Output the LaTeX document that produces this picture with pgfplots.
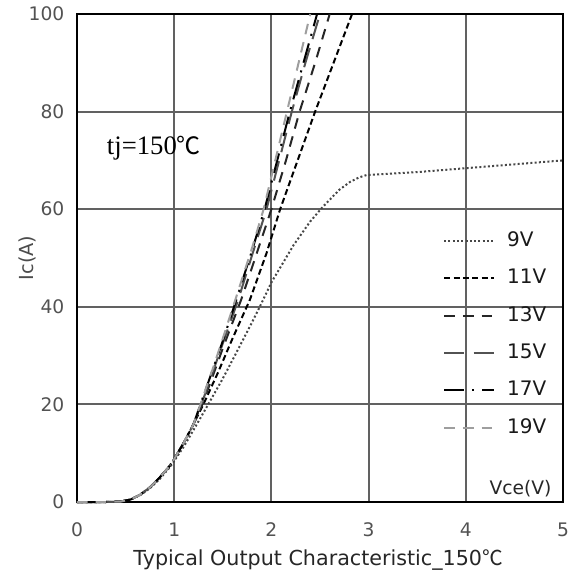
\documentclass[border=0pt]{standalone}
\usepackage{fontspec}
\setmainfont{DejaVu Sans}
\newfontfamily\serif{Liberation Serif}
\newfontfamily\cjk{Noto Sans CJK SC}
\usepackage{pgfplots}
\pgfplotsset{compat=1.18}
\usetikzlibrary{calc}

\begin{document}
\begin{tikzpicture}
\begin{axis}[
  scale only axis, width=364.5pt, height=366pt,
  xmin=0, xmax=5, ymin=0, ymax=100,
  xtick={0,1,...,5}, ytick={0,20,...,100},
  major tick length=0pt,
  grid=major, major grid style={black!62, line width=1.4pt},
  axis line style={black, line width=2.2pt},
  /pgf/number format/assume math mode=true,
  ticklabel style={font=\fontsize{14}{16}\selectfont, text=black!68},
  xticklabel style={yshift=-12pt},
  yticklabel style={xshift=-6pt},
  xlabel={Typical Output Characteristic\_150{\cjk ℃}},
  xlabel style={at={(axis description cs:0.496,-0.119)}, anchor=center,
    font=\fontsize{15.5}{18}\selectfont, text=black!85},
  ylabel={Ic(A)},
  ylabel style={at={(axis description cs:-0.101,0.5)}, anchor=center,
    font=\fontsize{14.5}{17}\selectfont, text=black!70},
  clip=false,
  legend cell align=left,
  legend image code/.code={\draw[#1] (0pt,0pt) -- (37.5pt,0pt);},
  legend style={at={(rel axis cs:0.753,0.553)}, anchor=north west,
    draw=none, fill=none, inner sep=0pt, row sep=15pt,
    font=\fontsize{15}{17}\selectfont,
    nodes={text height=10.5pt, text depth=2.5pt, inner sep=0pt, text=black!90},
    /tikz/every odd column/.append style={column sep=9pt}},
  every axis plot/.append style={line width=1.5pt},
]
% 9V
\addplot[black!72, dash pattern=on 1.5pt off 1.7pt] coordinates {
 (0,0) (0.3,0) (0.45,0.1) (0.55,0.5) (0.65,1.4) (0.75,2.8) (0.85,4.7)
 (0.95,7) (1.0,8.4) (1.1,11.4) (1.2,14.8) (1.35,20) (1.5,25.3) (1.65,31)
 (1.8,36.8) (1.9,40.8) (2.0,45) (2.23,52.7) (2.4,57.5) (2.53,60.5)
 (2.7,64) (2.81,65.6) (2.9,66.5) (2.98,67) (3.5,67.6) (4.0,68.4)
 (4.5,69.2) (5.0,70)
};
% 11V
\addplot[black, dash pattern=on 4.5pt off 2.5pt] coordinates {
 (0,0) (0.3,0) (0.45,0.1) (0.55,0.5) (0.65,1.5) (0.75,3) (0.85,5)
 (0.95,7.3) (1.0,8.8) (1.1,12.2) (1.2,16) (1.3,20) (1.45,26.5)
 (1.6,33.5) (1.78,41.5) (1.95,51) (2.09,60) (2.27,70) (2.45,80)
 (2.64,90) (2.83,100)
};
% 13V
\addplot[black!85, dash pattern=on 8pt off 6pt] coordinates {
 (0,0) (0.3,0) (0.45,0.1) (0.55,0.5) (0.65,1.5) (0.75,3) (0.85,5)
 (0.95,7.3) (1.0,8.8) (1.1,12.2) (1.2,16) (1.29,20) (1.4,26)
 (1.5,31.5) (1.69,41.5) (1.85,51) (2.0,60) (2.15,70) (2.29,80)
 (2.45,90) (2.60,100)
};
% 15V
\addplot[black!68, dash pattern=on 15pt off 7pt] coordinates {
 (0,0) (0.3,0) (0.45,0.1) (0.55,0.5) (0.65,1.5) (0.75,3) (0.85,5)
 (0.95,7.3) (1.0,8.8) (1.1,12.2) (1.2,16) (1.28,20) (1.4,26.8)
 (1.5,32.5) (1.66,41.5) (1.8,50.5) (1.95,60) (2.08,70) (2.21,80)
 (2.35,90) (2.50,100)
};
% 17V
\addplot[black, dash pattern=on 15pt off 6pt on 1.5pt off 6pt] coordinates {
 (0,0) (0.3,0) (0.45,0.1) (0.55,0.5) (0.65,1.5) (0.75,3) (0.85,5)
 (0.95,7.3) (1.0,8.8) (1.1,12.2) (1.2,16) (1.27,20) (1.4,27.3)
 (1.5,33) (1.64,41.5) (1.8,51.5) (1.93,60) (2.06,70) (2.19,80)
 (2.33,90) (2.47,100)
};
% 19V
\addplot[black!38, dash pattern=on 8pt off 6pt] coordinates {
 (0,0) (0.3,0) (0.45,0.1) (0.55,0.5) (0.65,1.5) (0.75,3) (0.85,5)
 (0.95,7.3) (1.0,8.8) (1.1,12.2) (1.2,16) (1.27,20) (1.4,27.5)
 (1.5,33.5) (1.63,41.5) (1.8,52) (1.92,60) (2.04,70) (2.16,80)
 (2.28,90) (2.40,100)
};
\legend{9V,11V,13V,15V,17V,19V}
\node[anchor=west, font=\serif\fontsize{20}{22}\selectfont]
  at (axis cs:0.26,72.5) {tj=150{\cjk\fontsize{18}{20}\selectfont ℃}};
\node[anchor=base east, font=\fontsize{14}{16}\selectfont, text=black!85]
  at (axis cs:4.93,1.6) {Vce(V)};
\end{axis}
\path ($(current axis.south west)+(-57.75pt,-54.75pt)$)
  rectangle ($(current axis.north east)+(4.5pt,10.5pt)$);
\end{tikzpicture}
\end{document}
